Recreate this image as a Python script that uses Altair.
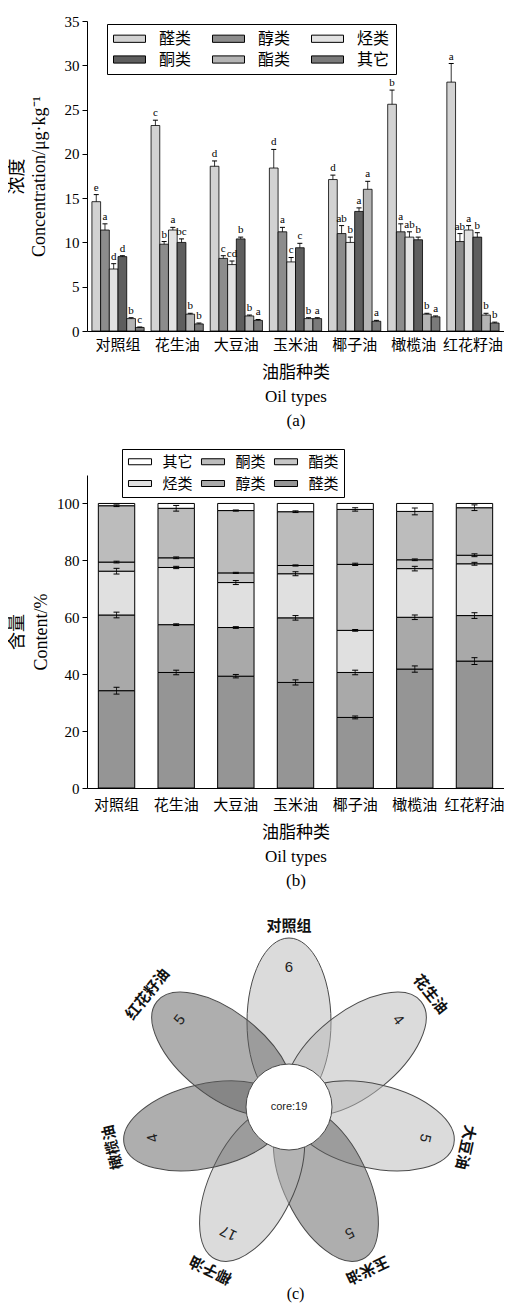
import altair as alt
import pandas as pd

SERIF = "Liberation Serif, Noto Sans CJK SC"
CJK = "Noto Sans CJK SC"
LSANS = "Liberation Sans, Noto Sans CJK SC"

oils = ["对照组", "花生油", "大豆油", "玉米油", "椰子油", "橄榄油", "红花籽油"]

# ---------------- panel (a): concentration ----------------
classes_a = ["醛类", "醇类", "烃类", "酮类", "酯类", "其它"]
conc_aldehyde = [14.6, 23.2, 18.6, 18.4, 17.1, 25.6, 28.1]
conc_alcohol = [11.4, 9.8, 8.2, 11.2, 11.0, 11.2, 10.1]
conc_hydrocarbon = [7.0, 11.4, 7.5, 7.8, 10.0, 10.6, 11.4]
conc_ketone = [8.4, 10.0, 10.4, 9.4, 13.5, 10.3, 10.6]
conc_ester = [1.4, 1.9, 1.7, 1.4, 16.0, 1.9, 1.8]
conc_other = [0.4, 0.8, 1.2, 1.4, 1.1, 1.6, 0.9]
err_aldehyde = [0.8, 0.6, 0.6, 2.1, 0.5, 1.6, 2.1]
err_alcohol = [0.7, 0.3, 0.3, 0.5, 0.9, 0.9, 0.9]
err_hydrocarbon = [0.6, 0.3, 0.4, 0.5, 0.6, 0.6, 0.5]
err_ketone = [0.1, 0.4, 0.2, 0.5, 0.4, 0.3, 0.5]
err_ester = [0.1, 0.1, 0.1, 0.1, 0.9, 0.1, 0.2]
err_other = [0.05, 0.1, 0.1, 0.1, 0.1, 0.1, 0.1]
let_aldehyde = ["e", "c", "d", "d", "d", "b", "a"]
let_alcohol = ["a", "b", "c", "a", "ab", "a", "ab"]
let_hydrocarbon = ["d", "a", "cd", "c", "b", "ab", "a"]
let_ketone = ["d", "bc", "b", "c", "a", "b", "b"]
let_ester = ["b", "b", "b", "b", "a", "b", "b"]
let_other = ["c", "b", "a", "a", "a", "a", "b"]
fill_a = ["#d2d2d2", "#8c8c8c", "#e2e2e2", "#5e5e5e", "#b4b4b4", "#7a7a7a"]

series_a = [conc_aldehyde, conc_alcohol, conc_hydrocarbon, conc_ketone, conc_ester, conc_other]
errs_a = [err_aldehyde, err_alcohol, err_hydrocarbon, err_ketone, err_ester, err_other]
lets_a = [let_aldehyde, let_alcohol, let_hydrocarbon, let_ketone, let_ester, let_other]
rows_a = []
for ci, cls in enumerate(classes_a):
    for oi, oil in enumerate(oils):
        v = series_a[ci][oi]
        e = errs_a[ci][oi]
        rows_a.append(dict(oil=oil, cls=cls, value=v, top=v + e, letter=lets_a[ci][oi]))
df_a = pd.DataFrame(rows_a)

# wide legend swatches: path spans +-2 (x) and +-0.45 (y) of half the nominal box
RECT_A = "M-2,-0.45L2,-0.45L2,0.45L-2,0.45Z"

x_a = alt.X("oil:N", sort=oils,
            scale=alt.Scale(paddingInner=0.117, paddingOuter=0.083),
            axis=alt.Axis(title=["油脂种类", "Oil types", "(a)"], labelAngle=0, ticks=False,
                          labelFont=SERIF, labelFontSize=15, labelPadding=6,
                          titleFont=SERIF, titleFontSize=17, titleFontWeight="normal",
                          titleLineHeight=24, titlePadding=12))
xo_a = alt.XOffset("cls:N", sort=classes_a,
                   scale=alt.Scale(domain=classes_a, paddingInner=0, paddingOuter=0))
base_a = alt.Chart(df_a).encode(x=x_a, xOffset=xo_a)
bars_a = base_a.mark_bar(stroke="black", strokeWidth=0.8).encode(
    y=alt.Y("value:Q", scale=alt.Scale(domain=[0, 35], nice=False),
            axis=alt.Axis(values=[0, 5, 10, 15, 20, 25, 30, 35], title=["浓度", "Concentration/μg·kg⁻¹"],
                          labelFont=SERIF, labelFontSize=15, tickSize=5, labelPadding=3,
                          titleFont=SERIF, titleFontSize=18, titleFontWeight="normal",
                          titleLineHeight=22, titlePadding=16)),
    fill=alt.Fill("cls:N", scale=alt.Scale(domain=classes_a, range=fill_a),
                  legend=alt.Legend(title=None, orient="none", legendX=20, legendY=3, columns=3,
                                    direction="horizontal",
                                    strokeColor="black", fillColor="white", padding=6,
                                    symbolType=RECT_A, symbolSize=256, symbolOffset=8,
                                    symbolStrokeColor="black",
                                    symbolStrokeWidth=1, symbolOpacity=1,
                                    labelFont=SERIF, labelFontSize=16, labelOffset=21,
                                    columnPadding=18, rowPadding=4)),
)
rule_a = base_a.mark_rule(color="black", strokeWidth=0.8).encode(y="value:Q", y2="top:Q")
cap_a = base_a.mark_point(shape="stroke", size=25, color="black", strokeWidth=1, opacity=1).encode(
    y="top:Q")
text_a = base_a.mark_text(font=SERIF, fontSize=11, dy=-7, color="black").encode(
    y="top:Q", text="letter:N")
panel_a = alt.layer(bars_a, rule_a, cap_a, text_a).properties(width=417, height=310)

# ---------------- panel (b): percentage content ----------------
classes_b = ["其它", "酮类", "酯类", "烃类", "醇类", "醛类"]          # legend order
stack_b = ["醛类", "醇类", "烃类", "酯类", "酮类", "其它"]            # bottom -> top
pct_aldehyde = [34.2, 40.6, 39.3, 37.1, 24.8, 41.8, 44.6]
pct_alcohol = [26.6, 16.8, 17.1, 22.7, 15.8, 18.2, 16.0]
pct_hydrocarbon = [15.4, 20.1, 15.8, 15.5, 14.8, 17.1, 18.2]
pct_ester = [3.2, 3.4, 3.4, 2.9, 23.2, 3.1, 3.0]
pct_ketone = [19.8, 17.4, 21.9, 18.9, 19.3, 17.0, 16.7]
pct_other = [0.8, 1.7, 2.5, 2.9, 2.1, 2.8, 1.5]
perr_aldehyde = [1.2, 0.8, 0.6, 0.9, 0.5, 1.1, 1.2]
perr_alcohol = [1.0, 0.3, 0.3, 0.8, 0.8, 0.8, 1.0]
perr_hydrocarbon = [1.0, 0.4, 0.7, 0.7, 0.3, 0.8, 0.5]
perr_ester = [0.3, 0.3, 0.2, 0.2, 0.4, 0.3, 0.5]
perr_ketone = [0.3, 1.0, 0.2, 0.3, 0.6, 1.2, 1.0]
perr_other = [0.0, 0.0, 0.0, 0.0, 0.0, 0.0, 0.0]
fill_b = ["#ffffff", "#bcbcbc", "#c6c6c6", "#e0e0e0", "#a9a9a9", "#959595"]

series_b = [pct_aldehyde, pct_alcohol, pct_hydrocarbon, pct_ester, pct_ketone, pct_other]
errs_b = [perr_aldehyde, perr_alcohol, perr_hydrocarbon, perr_ester, perr_ketone, perr_other]
rows_b = []
for oi, oil in enumerate(oils):
    cum = 0.0
    for si, cls in enumerate(stack_b):
        v = series_b[si][oi]
        cum += v
        e = errs_b[si][oi]
        rows_b.append(dict(oil=oil, cls=cls, pct=v, rank=si, elo=cum - e, ehi=cum + e,
                           has=1 if e > 0 else 0))
df_b = pd.DataFrame(rows_b)
df_eb = df_b[df_b["has"] == 1]

RECT_B = "M-1.92,-0.5L1.92,-0.5L1.92,0.5L-1.92,0.5Z"
x_b = alt.X("oil:N", sort=oils,
            scale=alt.Scale(paddingInner=0.39, paddingOuter=0.19),
            axis=alt.Axis(title=["油脂种类", "Oil types", "(b)"], labelAngle=0, ticks=False,
                          labelFont=SERIF, labelFontSize=15, labelPadding=9,
                          titleFont=SERIF, titleFontSize=17, titleFontWeight="normal",
                          titleLineHeight=24, titlePadding=12))
bars_b = alt.Chart(df_b).mark_bar(stroke="black", strokeWidth=1).encode(
    x=x_b,
    y=alt.Y("pct:Q", stack="zero", scale=alt.Scale(domain=[0, 110], nice=False),
            axis=alt.Axis(values=[0, 10, 20, 30, 40, 50, 60, 70, 80, 90, 100, 110],
                          labelExpr="datum.value % 20 == 0 && datum.value <= 100 ? datum.label : ''",
                          title=["含量", "Content/%"],
                          labelFont=SERIF, labelFontSize=15, tickSize=5, labelPadding=3,
                          titleFont=SERIF, titleFontSize=18, titleFontWeight="normal",
                          titleLineHeight=24, titlePadding=6)),
    fill=alt.Fill("cls:N", scale=alt.Scale(domain=classes_b, range=fill_b),
                  legend=alt.Legend(title=None, orient="none", legendX=35, legendY=-26, columns=3,
                                    direction="horizontal",
                                    strokeColor="black", fillColor="white", padding=5,
                                    symbolType=RECT_B, symbolSize=144, symbolOffset=5.5,
                                    symbolStrokeColor="black",
                                    symbolStrokeWidth=1, symbolOpacity=1,
                                    labelFont=SERIF, labelFontSize=15, labelOffset=15,
                                    columnPadding=6, rowPadding=6)),
    order=alt.Order("rank:Q"),
)
eb = alt.Chart(df_eb).encode(x=x_b)
rule_b = eb.mark_rule(color="black", strokeWidth=0.8).encode(y="elo:Q", y2="ehi:Q")
caplo_b = eb.mark_point(shape="stroke", size=36, color="black", strokeWidth=1, opacity=1).encode(
    y="elo:Q")
caphi_b = eb.mark_point(shape="stroke", size=36, color="black", strokeWidth=1, opacity=1).encode(
    y="ehi:Q")
panel_b = alt.layer(bars_b, rule_b, caplo_b, caphi_b).properties(width=417, height=313)

# ---------------- panel (c): flower Venn ----------------
venn_sets = oils
venn_unique = [6, 4, 5, 5, 17, 4, 5]
venn_shade = ["light", "light", "light", "dark", "light", "dark", "dark"]
core_count = 19

df_c = pd.DataFrame({"name": venn_sets, "count": venn_unique, "shade": venn_shade,
                     "idx": list(range(len(venn_sets)))})
ELLIPSE = ("M0,-1 C0.276,-1 0.5,-0.552 0.5,0 C0.5,0.552 0.276,1 0,1 "
           "C-0.276,1 -0.5,0.552 -0.5,0 C-0.5,-0.552 -0.276,-1 0,-1 Z")
xs = alt.Scale(domain=[-202, 215])
ys = alt.Scale(domain=[-174, 199])
base_c = alt.Chart(df_c).transform_calculate(
    theta="datum.idx * 360 / 7",
    rad="datum.idx * 2 * PI / 7",
    px="85 * sin(datum.rad)", py="85 * cos(datum.rad)",
    nx="140 * sin(datum.rad)", ny="140 * cos(datum.rad)",
    lx="181 * sin(datum.rad)", ly="181 * cos(datum.rad)",
)
petals = base_c.mark_point(shape=ELLIPSE, size=28224, filled=True, opacity=1, fillOpacity=0.5,
                           stroke="#4a4a4a", strokeWidth=1, strokeOpacity=1).encode(
    x=alt.X("px:Q", scale=xs, axis=None),
    y=alt.Y("py:Q", scale=ys, axis=None),
    angle=alt.Angle("theta:Q", scale=None),
    fill=alt.Fill("shade:N", scale=alt.Scale(domain=["light", "dark"], range=["#b8b8b8", "#5e5e5e"]),
                  legend=None),
)
nums = base_c.mark_text(font=LSANS, fontSize=15, color="#222222").encode(
    x=alt.X("nx:Q", scale=xs, axis=None), y=alt.Y("ny:Q", scale=ys, axis=None),
    angle=alt.Angle("theta:Q", scale=None), text="count:Q")
names = base_c.mark_text(font=CJK, fontSize=15, fontWeight="bold", color="#111111").encode(
    x=alt.X("lx:Q", scale=xs, axis=None), y=alt.Y("ly:Q", scale=ys, axis=None),
    angle=alt.Angle("theta:Q", scale=None), text="name:N")
df_core = pd.DataFrame({"label": [f"core:{core_count}"], "cx": [0.0], "cy": [0.0]})
core_circle = alt.Chart(df_core).mark_point(shape="circle", size=7396, filled=True, opacity=1,
                                            fill="white", stroke="#4a4a4a", strokeWidth=1).encode(
    x=alt.X("cx:Q", scale=xs, axis=None), y=alt.Y("cy:Q", scale=ys, axis=None))
core_text = alt.Chart(df_core).mark_text(font=LSANS, fontSize=11, color="#222222").encode(
    x=alt.X("cx:Q", scale=xs, axis=None), y=alt.Y("cy:Q", scale=ys, axis=None), text="label:N")
panel_c = alt.layer(petals, core_circle, core_text, nums, names).properties(
    width=417, height=373,
    title=alt.TitleParams("(c)", orient="bottom", font=SERIF, fontSize=16, fontWeight="normal",
                          offset=0),
)

chart = alt.vconcat(panel_a, panel_b, panel_c, spacing=20).resolve_scale(
    fill="independent", x="independent", y="independent"
).resolve_legend(fill="independent").properties(
    padding={"left": 0, "top": 6, "right": 0, "bottom": 0}
).configure_view(stroke=None).configure_axis(
    grid=False, domainColor="black", tickColor="black", labelColor="black", titleColor="black",
    domainWidth=1, tickWidth=1,
).configure_legend(labelColor="black")

chart.save("out.html", embed_options={"renderer": "svg", "actions": False})
